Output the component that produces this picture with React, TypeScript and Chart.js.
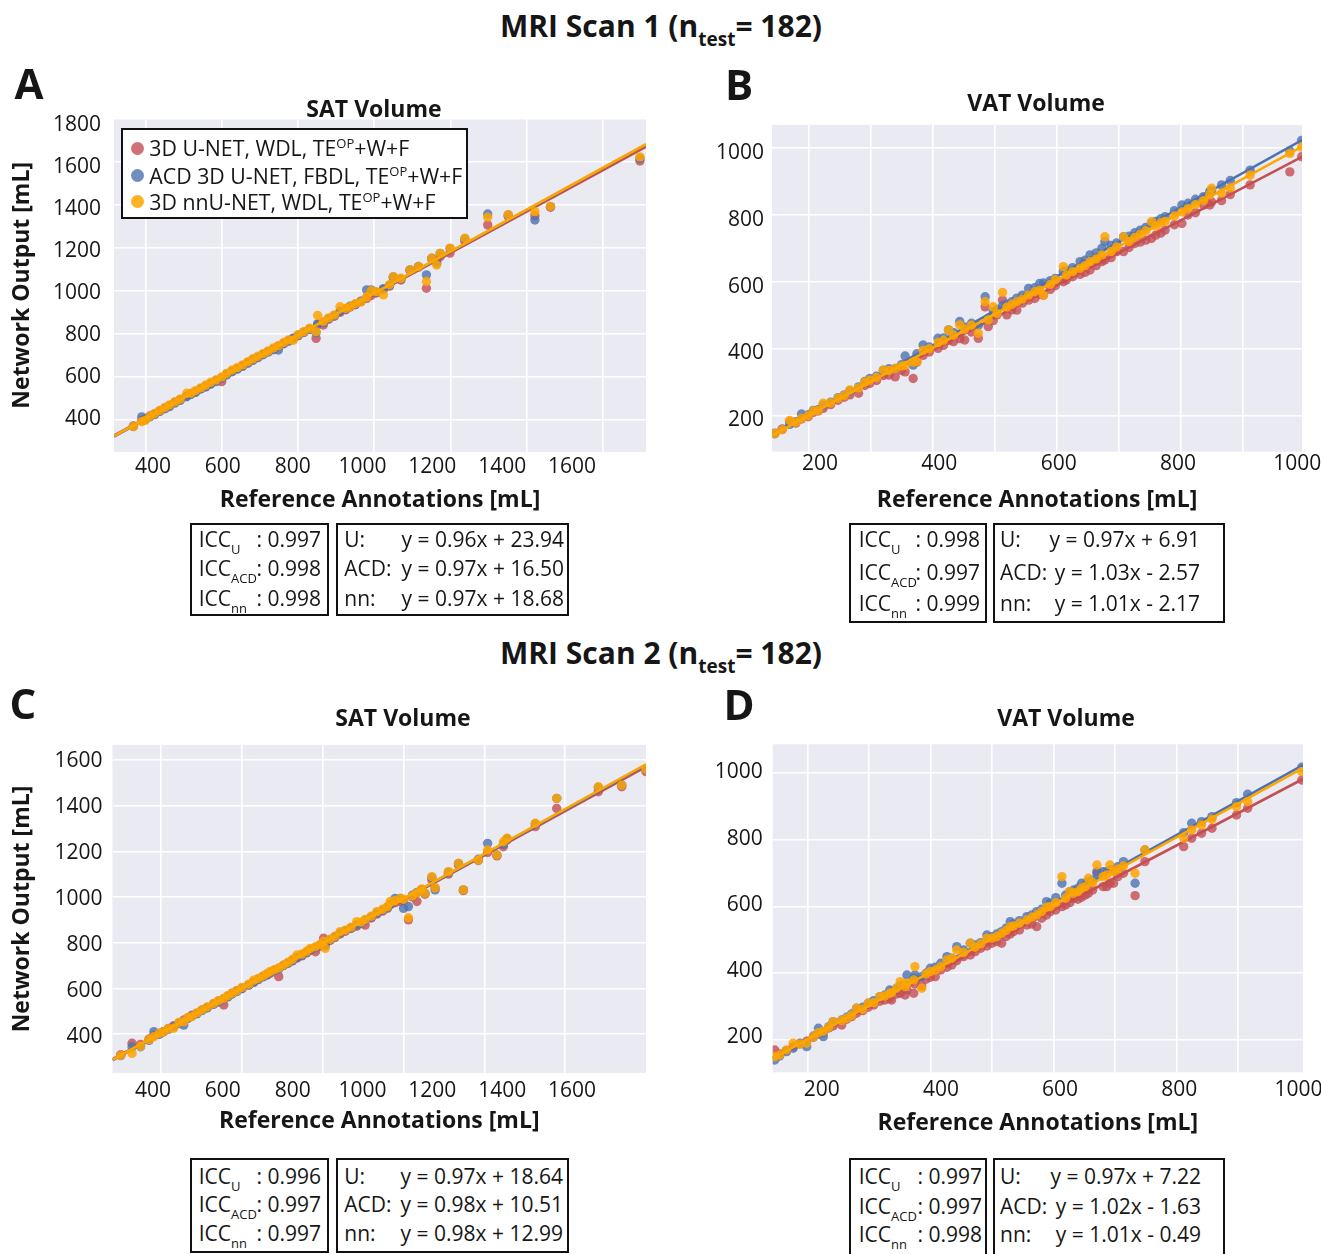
import React, { useEffect, useRef } from "react";
import { Chart, registerables } from "chart.js";

Chart.register(...registerables);

const FONT = '"Open Sans", "DejaVu Sans", sans-serif';
const INK = "#161616";

// ---------- series ----------
const SERIES_SHORT = ["U", "ACD", "nn"];
const SERIES_LABELS = ["3D U-NET, WDL, TE", "ACD 3D U-NET, FBDL, TE", "3D nnU-NET, WDL, TE"];
const LABEL_SUP = "OP";
const LABEL_TAIL = "+W+F";
const POINT_COLORS = ["rgba(196,78,82,0.8)", "rgba(76,114,176,0.8)", "rgba(255,165,0,0.85)"];
const LINE_COLORS = ["#C44E52", "#4C72B0", "#FFA500"];

// ---------- ticks ----------
const Y_TICKS_A = [400, 600, 800, 1000, 1200, 1400, 1600, 1800];
const Y_TICKS_C = [400, 600, 800, 1000, 1200, 1400, 1600];
const Y_TICKS_VAT = [200, 400, 600, 800, 1000];
const X_TICKS_SAT = [400, 600, 800, 1000, 1200, 1400, 1600];
const X_TICKS_VAT = [200, 400, 600, 800, 1000];
const X_GRID_A = [400, 600, 800, 1000, 1200, 1400, 1600];
const X_GRID_C = [400, 600, 800, 1000, 1200, 1400];
const X_GRID_VAT = [200, 300, 400, 500, 600, 700, 800, 900];

// ---------- Panel A: MRI scan 1, SAT ----------
const REF_A = [367, 389, 398, 410, 423, 436, 450, 462, 476, 490, 507, 518, 530, 544, 557, 570, 584, 599, 612, 626, 640, 654, 668, 681, 694, 708, 721, 735, 748, 762, 775, 787, 800, 815, 830, 847, 851, 866, 880, 895, 910, 925, 936, 950, 965, 980, 992, 1005, 1024, 1040, 1050, 1070, 1094, 1116, 1137, 1151, 1164, 1173, 1199, 1238, 1298, 1352, 1422, 1463, 1698];
const U_A = [372, 398, 404, 418, 428, 440, 455, 466, 482, 494, 510, 521, 530, 545, 556, 569, 583, 578, 612, 625, 638, 652, 666, 680, 690, 705, 716, 730, 742, 755, 768, 780, 792, 808, 820, 779, 842, 841, 868, 882, 900, 912, 924, 936, 950, 965, 978, 990, 1006, 1022, 1060, 1050, 1095, 1110, 1012, 1148, 1140, 1159, 1175, 1230, 1306, 1346, 1348, 1388, 1603];
const ACD_A = [370, 414, 402, 414, 425, 441, 452, 462, 478, 491, 508, 519, 528, 544, 553, 566, 578, 594, 609, 624, 636, 649, 664, 677, 690, 703, 716, 726, 725, 754, 766, 778, 792, 806, 822, 805, 846, 852, 870, 884, 904, 914, 928, 936, 952, 1004, 1004, 992, 1010, 1024, 1064, 1055, 1097, 1113, 1074, 1151, 1128, 1174, 1196, 1242, 1357, 1352, 1329, 1391, 1615];
const NN_A = [369, 392, 398, 416, 430, 444, 458, 470, 484, 497, 524, 524, 536, 549, 562, 575, 586, 600, 616, 632, 643, 656, 671, 684, 696, 708, 720, 734, 745, 760, 772, 770, 796, 810, 826, 810, 886, 858, 874, 888, 926, 918, 926, 940, 948, 972, 1000, 996, 981, 1028, 1066, 1058, 1097, 1113, 1043, 1151, 1120, 1174, 1198, 1244, 1342, 1354, 1368, 1392, 1622];
const SLOPE_A = [0.96, 0.97, 0.97];
const INTERCEPT_A = [23.94, 16.5, 18.68];
const ICC_A = ["0.997", "0.998", "0.998"];

// ---------- Panel B: MRI scan 1, VAT ----------
const REF_B = [146, 158, 170, 180, 189, 200, 208, 216, 224, 236, 248, 258, 267, 281, 291, 299, 310, 321, 330, 340, 350, 356, 369, 375, 385, 395, 409, 418, 426, 434, 444, 452, 463, 474, 485, 490, 498, 504, 513, 520, 528, 536, 545, 555, 565, 573, 579, 590, 598, 611, 616, 626, 638, 646, 654, 664, 673, 678, 688, 697, 708, 717, 726, 735, 744, 753, 760, 768, 775, 790, 802, 812, 824, 837, 847, 850, 866, 880, 912, 976, 995];
const U_B = [148, 160, 182, 178, 190, 197, 210, 214, 222, 233, 246, 255, 262, 267, 290, 296, 305, 320, 321, 316, 335, 331, 311, 360, 380, 390, 401, 410, 425, 421, 430, 426, 450, 431, 525, 466, 484, 501, 545, 501, 516, 515, 536, 545, 550, 562, 560, 577, 588, 600, 605, 615, 622, 628, 635, 648, 660, 665, 672, 690, 690, 702, 714, 718, 724, 729, 739, 745, 754, 770, 774, 799, 806, 829, 829, 838, 842, 860, 889, 928, 973];
const ACD_B = [146, 160, 174, 182, 205, 203, 216, 218, 232, 240, 254, 262, 274, 286, 302, 311, 318, 336, 340, 341, 352, 378, 351, 385, 411, 405, 431, 432, 456, 448, 481, 465, 476, 470, 555, 491, 510, 517, 528, 533, 540, 551, 560, 580, 582, 595, 596, 603, 610, 630, 632, 642, 660, 664, 680, 686, 700, 720, 708, 716, 734, 736, 746, 754, 762, 775, 780, 788, 794, 812, 829, 834, 846, 854, 870, 872, 889, 902, 933, 990, 1022];
const NN_B = [147, 158, 186, 180, 192, 200, 214, 216, 237, 238, 252, 260, 277, 283, 300, 306, 314, 336, 335, 341, 348, 350, 360, 361, 395, 400, 418, 425, 456, 440, 471, 458, 470, 446, 540, 486, 525, 505, 568, 524, 532, 540, 548, 560, 570, 575, 560, 592, 606, 645, 620, 630, 640, 648, 660, 668, 680, 734, 690, 704, 734, 720, 732, 742, 752, 779, 766, 776, 780, 796, 808, 818, 830, 842, 860, 879, 864, 880, 918, 983, 1002];
const SLOPE_B = [0.97, 1.03, 1.01];
const INTERCEPT_B = [6.91, -2.57, -2.17];
const ICC_B = ["0.998", "0.997", "0.999"];

// ---------- Panel C: MRI scan 2, SAT ----------
const REF_C = [300, 328, 349, 370, 382, 395, 406, 418, 431, 444, 456, 466, 476, 488, 501, 514, 530, 542, 555, 565, 575, 588, 600, 617, 629, 640, 652, 662, 670, 681, 691, 703, 714, 725, 736, 748, 760, 769, 782, 794, 802, 806, 818, 830, 843, 856, 870, 884, 895, 905, 920, 934, 948, 960, 967, 979, 992, 1000, 1012, 1022, 1033, 1045, 1053, 1070, 1078, 1111, 1136, 1148, 1185, 1208, 1231, 1247, 1256, 1326, 1379, 1482, 1540, 1600];
const U_C = [309, 359, 354, 378, 394, 400, 410, 424, 436, 448, 461, 470, 482, 490, 505, 516, 532, 544, 527, 565, 578, 590, 600, 615, 628, 639, 651, 658, 666, 679, 651, 700, 710, 722, 732, 742, 755, 766, 760, 785, 819, 790, 810, 822, 838, 850, 862, 872, 885, 877, 908, 925, 938, 950, 968, 975, 980, 985, 900, 1000, 980, 1030, 1012, 1075, 1040, 1100, 1140, 1028, 1160, 1195, 1180, 1220, 1250, 1308, 1388, 1461, 1483, 1549];
const ACD_C = [305, 344, 344, 372, 410, 398, 410, 420, 432, 447, 439, 468, 478, 488, 502, 514, 530, 540, 554, 562, 574, 586, 598, 614, 626, 638, 650, 660, 668, 678, 685, 700, 710, 720, 735, 744, 758, 768, 778, 790, 800, 786, 812, 826, 842, 852, 864, 878, 886, 898, 912, 930, 942, 954, 966, 994, 994, 950, 958, 1008, 1020, 1032, 1016, 1085, 1031, 1108, 1147, 1031, 1165, 1235, 1184, 1230, 1255, 1320, 1432, 1480, 1490, 1560];
const NN_C = [306, 315, 346, 375, 388, 402, 410, 423, 425, 450, 454, 472, 476, 492, 505, 518, 534, 546, 556, 568, 578, 590, 604, 618, 636, 643, 654, 665, 674, 682, 690, 702, 714, 727, 746, 750, 762, 775, 782, 792, 805, 775, 815, 828, 848, 855, 868, 892, 890, 902, 916, 936, 946, 958, 980, 984, 994, 990, 909, 1005, 1018, 1035, 1016, 1089, 1040, 1111, 1147, 1031, 1162, 1206, 1184, 1242, 1257, 1323, 1432, 1483, 1490, 1560];
const SLOPE_C = [0.97, 0.98, 0.98];
const INTERCEPT_C = [18.64, 10.51, 12.99];
const ICC_C = ["0.996", "0.997", "0.997"];

// ---------- Panel D: MRI scan 2, VAT ----------
const REF_D = [147, 155, 166, 177, 188, 199, 210, 218, 226, 235, 242, 256, 264, 272, 280, 290, 299, 308, 318, 326, 334, 337, 345, 351, 359, 362, 373, 375, 386, 393, 400, 408, 417, 427, 435, 443, 454, 465, 473, 482, 492, 500, 508, 516, 523, 530, 535, 545, 557, 565, 573, 581, 589, 595, 604, 614, 620, 627, 633, 640, 646, 652, 657, 664, 671, 681, 687, 692, 698, 705, 714, 733, 749, 812, 825, 841, 858, 898, 916, 1004];
const U_D = [170, 158, 168, 180, 188, 196, 208, 218, 222, 236, 242, 245, 262, 270, 280, 288, 298, 305, 316, 320, 325, 320, 338, 340, 335, 350, 340, 368, 362, 382, 388, 390, 410, 418, 425, 438, 450, 455, 465, 475, 482, 490, 495, 490, 510, 518, 525, 530, 545, 548, 540, 565, 575, 585, 590, 600, 605, 612, 625, 622, 628, 635, 640, 650, 705, 660, 660, 670, 670, 690, 700, 633, 735, 780, 805, 820, 835, 875, 895, 980];
const ACD_D = [140, 152, 165, 175, 190, 180, 212, 235, 210, 240, 255, 260, 268, 278, 295, 298, 310, 318, 330, 335, 350, 345, 355, 362, 366, 395, 385, 395, 390, 400, 415, 418, 430, 450, 445, 480, 470, 490, 485, 492, 515, 510, 518, 525, 535, 555, 548, 558, 570, 575, 585, 592, 615, 610, 627, 670, 635, 645, 650, 655, 670, 665, 675, 680, 700, 705, 705, 710, 712, 720, 735, 670, 770, 822, 850, 855, 870, 912, 937, 1018];
const NN_D = [150, 155, 170, 190, 188, 190, 210, 222, 226, 238, 255, 258, 265, 274, 295, 292, 310, 312, 330, 332, 340, 342, 355, 375, 360, 370, 380, 420, 355, 398, 405, 410, 420, 440, 445, 470, 462, 490, 478, 488, 505, 505, 510, 520, 528, 540, 542, 550, 560, 568, 575, 585, 598, 600, 612, 690, 625, 645, 640, 645, 655, 660, 685, 672, 725, 690, 695, 725, 705, 712, 722, 700, 770, 805, 830, 845, 862, 900, 915, 1005];
const SLOPE_D = [0.97, 1.02, 1.01];
const INTERCEPT_D = [7.22, -1.63, -0.49];
const ICC_D = ["0.997", "0.997", "0.998"];

// ---------- layout (page pixels) ----------
type Rect = { l: number; t: number; r: number; b: number };
type PanelSpec = {
  key: string;
  canvas: { x: number; y: number; w: number; h: number };
  area: Rect;
  xRange: [number, number];
  xLabelRange: [number, number];
  yRange: [number, number];
  yLabelRange: [number, number];
  yTicks: number[];
  xTicks: number[];
  xGrid: number[];
  yTitleX: number | null;
  xTitleY: number;
  yPad: number;
  xPad: number;
  ref: number[];
  series: number[][];
  slopes: number[];
  intercepts: number[];
  icc: string[];
  stats: { left: Rect; right: Rect; rows: number[]; iccL: number; iccR: number; lbL: number; eqR: number };
};

const PANELS: PanelSpec[] = [
  {
    key: "A",
    canvas: { x: 0, y: 100, w: 660, h: 430 },
    area: { l: 114, t: 118.6, r: 646, b: 452 },
    xRange: [316, 1714], xLabelRange: [288.3, 1812], yRange: [251, 1800], yLabelRange: [242.6, 1832.9],
    yTicks: Y_TICKS_A, xTicks: X_TICKS_SAT, xGrid: X_GRID_A,
    yTitleX: 22, xTitleY: 500, yPad: 13, xPad: 2,
    ref: REF_A, series: [U_A, ACD_A, NN_A], slopes: SLOPE_A, intercepts: INTERCEPT_A, icc: ICC_A,
    stats: { left: { l: 190, t: 522.7, r: 329, b: 616 }, right: { l: 336, t: 522.7, r: 569, b: 616 }, rows: [539.3, 568.3, 597.7], iccL: 198.7, iccR: 321, lbL: 344.3, eqR: 564 },
  },
  {
    key: "B",
    canvas: { x: 660, y: 100, w: 661, h: 430 },
    area: { l: 772, t: 125, r: 1302, b: 451.7 },
    xRange: [141.5, 995.6], xLabelRange: [119.6, 1007.8], yRange: [92.5, 1067.8], yLabelRange: [104.9, 1084.9],
    yTicks: Y_TICKS_VAT, xTicks: X_TICKS_VAT, xGrid: X_GRID_VAT,
    yTitleX: null, xTitleY: 500, yPad: 8, xPad: 0,
    ref: REF_B, series: [U_B, ACD_B, NN_B], slopes: SLOPE_B, intercepts: INTERCEPT_B, icc: ICC_B,
    stats: { left: { l: 848.6, t: 522.7, r: 987.4, b: 622.7 }, right: { l: 992.5, t: 522.7, r: 1224.8, b: 622.7 }, rows: [539.3, 571.7, 602.7], iccL: 858.7, iccR: 980, lbL: 1000, eqR: 1200 },
  },
  {
    key: "C",
    canvas: { x: 0, y: 730, w: 660, h: 420 },
    area: { l: 112.5, t: 745, r: 646, b: 1073 },
    xRange: [279.6, 1600], xLabelRange: [284, 1812], yRange: [229, 1665.7], yLabelRange: [242.1, 1668.7],
    yTicks: Y_TICKS_C, xTicks: X_TICKS_SAT, xGrid: X_GRID_C,
    yTitleX: 22, xTitleY: 1121, yPad: 10, xPad: 5,
    ref: REF_C, series: [U_C, ACD_C, NN_C], slopes: SLOPE_C, intercepts: INTERCEPT_C, icc: ICC_C,
    stats: { left: { l: 190, t: 1158.3, r: 329, b: 1253 }, right: { l: 336, t: 1158.3, r: 569, b: 1253 }, rows: [1176, 1204, 1232.7], iccL: 198.7, iccR: 321, lbL: 344.3, eqR: 563 },
  },
  {
    key: "D",
    canvas: { x: 660, y: 730, w: 661, h: 420 },
    area: { l: 772.7, t: 744.3, r: 1303, b: 1072.3 },
    xRange: [143.7, 1006], xLabelRange: [117.8, 1007.5], yRange: [103, 1087], yLabelRange: [92.2, 1085.4],
    yTicks: Y_TICKS_VAT, xTicks: X_TICKS_VAT, xGrid: X_GRID_VAT,
    yTitleX: null, xTitleY: 1123, yPad: 10, xPad: 5,
    ref: REF_D, series: [U_D, ACD_D, NN_D], slopes: SLOPE_D, intercepts: INTERCEPT_D, icc: ICC_D,
    stats: { left: { l: 848.6, t: 1158.3, r: 987.4, b: 1260 }, right: { l: 992.5, t: 1158.3, r: 1224.8, b: 1260 }, rows: [1176, 1206, 1234], iccL: 858.7, iccR: 982, lbL: 1000, eqR: 1201 },
  },
];

const TITLE_SIZE = 23;
const TITLE_LH = TITLE_SIZE * 1.2;

const bgPlugin = {
  id: "plotBackground",
  beforeDraw(chart: any) {
    const { ctx, chartArea } = chart;
    if (!chartArea) return;
    ctx.save();
    ctx.fillStyle = "#EAEAF2";
    ctx.fillRect(chartArea.left, chartArea.top, chartArea.right - chartArea.left, chartArea.bottom - chartArea.top);
    ctx.restore();
  },
};

function PanelChart({ p }: { p: PanelSpec }) {
  const ref = useRef<HTMLCanvasElement | null>(null);
  useEffect(() => {
    if (!ref.current) return;
    const padLeft = p.yTitleX != null ? p.yTitleX - TITLE_LH / 2 - p.canvas.x : 0;
    const yWidth = p.area.l - p.canvas.x - padLeft;
    const padTop = p.area.t - p.canvas.y;
    const padRight = p.canvas.x + p.canvas.w - p.area.r;
    const xHeight = p.xTitleY + TITLE_LH / 2 - p.area.b;
    const padBottom = p.canvas.y + p.canvas.h - p.area.b - xHeight;

    const datasets: any[] = [];
    for (let s = 0; s < 3; s++) {
      datasets.push({
        label: SERIES_LABELS[s] + LABEL_SUP + LABEL_TAIL,
        data: p.ref.map((x, i) => ({ x, y: p.series[s][i] })),
        backgroundColor: POINT_COLORS[s],
        borderWidth: 0,
        pointRadius: 4.7,
        pointHoverRadius: 4.7,
        order: 5 - 2 * s,
      });
      const [x0, x1] = p.xRange;
      datasets.push({
        label: SERIES_SHORT[s] + " fit",
        data: [
          { x: x0, y: p.slopes[s] * x0 + p.intercepts[s] },
          { x: x1, y: p.slopes[s] * x1 + p.intercepts[s] },
        ],
        showLine: true,
        borderColor: LINE_COLORS[s],
        backgroundColor: LINE_COLORS[s],
        borderWidth: 2.6,
        pointRadius: 0,
        pointHoverRadius: 0,
        order: 4 - 2 * s,
      });
    }

    const tickFont = { family: FONT, size: 21 };
    const titleFont = { family: FONT, size: TITLE_SIZE, weight: "bold" as const };

    const chart = new Chart(ref.current, {
      type: "scatter",
      data: { datasets },
      plugins: [bgPlugin],
      options: {
        animation: false,
        responsive: false,
        devicePixelRatio: 1,
        events: [],
        layout: { padding: { left: padLeft, top: padTop, right: padRight, bottom: padBottom } },
        plugins: { legend: { display: false }, tooltip: { enabled: false }, title: { display: false } },
        scales: {
          // data axis: carries the grid
          x: {
            type: "linear",
            position: "bottom",
            weight: 0,
            min: p.xRange[0],
            max: p.xRange[1],
            bounds: "data",
            afterBuildTicks: (s: any) => { s.ticks = p.xGrid.map((v) => ({ value: v })); },
            afterFit: (s: any) => { s.height = 0; s.paddingLeft = 0; s.paddingRight = 0; },
            ticks: { display: false },
            grid: { color: "#ffffff", lineWidth: 1.6, drawTicks: false },
            border: { display: false },
          },
          // label axis (the printed tick labels sit on their own scale)
          x2: {
            type: "linear",
            axis: "x",
            position: "bottom",
            weight: 1,
            min: p.xLabelRange[0],
            max: p.xLabelRange[1],
            bounds: "data",
            afterBuildTicks: (s: any) => { s.ticks = p.xTicks.map((v) => ({ value: v })); },
            afterFit: (s: any) => { s.height = xHeight; s.paddingLeft = 0; s.paddingRight = 0; },
            ticks: { font: tickFont, color: INK, padding: p.xPad, maxRotation: 0, autoSkip: false, callback: (v: any) => String(v) },
            grid: { display: false, drawTicks: false },
            border: { display: false },
            title: { display: true, text: "Reference Annotations [mL]", font: titleFont, color: INK, padding: 0 },
          },
          y: {
            type: "linear",
            position: "left",
            weight: 0,
            min: p.yRange[0],
            max: p.yRange[1],
            bounds: "data",
            afterBuildTicks: (s: any) => { s.ticks = p.yTicks.map((v) => ({ value: v })); },
            afterFit: (s: any) => { s.width = 0; s.paddingTop = 0; s.paddingBottom = 0; },
            ticks: { display: false },
            grid: { color: "#ffffff", lineWidth: 1.6, drawTicks: false },
            border: { display: false },
          },
          y2: {
            type: "linear",
            axis: "y",
            position: "left",
            weight: 1,
            min: p.yLabelRange[0],
            max: p.yLabelRange[1],
            bounds: "data",
            afterBuildTicks: (s: any) => { s.ticks = p.yTicks.map((v) => ({ value: v })); },
            afterFit: (s: any) => { s.width = yWidth; s.paddingTop = 0; s.paddingBottom = 0; },
            ticks: { font: tickFont, color: INK, padding: p.yPad, autoSkip: false, callback: (v: any) => String(v) },
            grid: { display: false, drawTicks: false },
            border: { display: false },
            title: p.yTitleX != null
              ? { display: true, text: "Network Output [mL]", font: titleFont, color: INK, padding: 0 }
              : { display: false },
          },
        },
      } as any,
    });
    return () => chart.destroy();
  }, [p]);
  return (
    <canvas
      ref={ref}
      width={p.canvas.w}
      height={p.canvas.h}
      style={{ position: "absolute", left: p.canvas.x, top: p.canvas.y, width: p.canvas.w, height: p.canvas.h }}
    />
  );
}

const textBase: React.CSSProperties = { position: "absolute", whiteSpace: "nowrap", lineHeight: 1, color: INK };

function fmtEq(m: number, b: number) {
  return `y = ${m.toFixed(2)}x ${b < 0 ? "-" : "+"} ${Math.abs(b).toFixed(2)}`;
}

function boxStyle(r: Rect): React.CSSProperties {
  return { position: "absolute", left: r.l, top: r.t, width: r.r - r.l, height: r.b - r.t, border: "2px solid #111", boxSizing: "border-box" };
}

function Stats({ p }: { p: PanelSpec }) {
  const s = p.stats;
  return (
    <>
      <div style={boxStyle(s.left)} />
      <div style={boxStyle(s.right)} />
      {SERIES_SHORT.map((name, i) => (
        <React.Fragment key={name}>
          <div style={{ ...textBase, left: s.iccL, top: s.rows[i], transform: "translateY(-50%)", fontSize: 21 }}>
            ICC<span style={{ fontSize: 13, position: "relative", top: 7 }}>{name}</span>
          </div>
          <div style={{ ...textBase, left: s.iccR, top: s.rows[i], transform: "translate(-100%,-50%)", fontSize: 21 }}>
            : {p.icc[i]}
          </div>
          <div style={{ ...textBase, left: s.lbL, top: s.rows[i], transform: "translateY(-50%)", fontSize: 21 }}>{name}:</div>
          <div style={{ ...textBase, left: s.eqR, top: s.rows[i], transform: "translate(-100%,-50%)", fontSize: 21 }}>
            {fmtEq(p.slopes[i], p.intercepts[i])}
          </div>
        </React.Fragment>
      ))}
    </>
  );
}

function Heading({ y, scan }: { y: number; scan: number }) {
  return (
    <div style={{ ...textBase, left: 661, top: y, transform: "translate(-50%,-50%)", fontSize: 30, fontWeight: 700 }}>
      MRI Scan {scan} (n<span style={{ fontSize: 19, position: "relative", top: 9 }}>test</span>= 182)
    </div>
  );
}

const SUBTITLES: [string, number, number][] = [
  ["SAT Volume", 374, 108],
  ["VAT Volume", 1036, 102],
  ["SAT Volume", 403, 716.5],
  ["VAT Volume", 1066, 716.5],
];
const LETTERS: [string, number, number][] = [
  ["A", 29, 83],
  ["B", 739, 84],
  ["C", 23, 703],
  ["D", 739, 704],
];

export default function App() {
  useEffect(() => {
    document.body.style.margin = "0";
  }, []);
  const legendRows = [148.3, 175.7, 201.7];
  return (
    <div style={{ position: "absolute", left: 0, top: 0, width: 1321, height: 1254, overflow: "hidden", background: "#fff", fontFamily: FONT, color: INK }}>
      {PANELS.map((p) => (
        <PanelChart key={p.key} p={p} />
      ))}
      <Heading y={26} scan={1} />
      <Heading y={653} scan={2} />
      {LETTERS.map(([t, x, y]) => (
        <div key={t} style={{ ...textBase, left: x, top: y, transform: "translate(-50%,-50%)", fontSize: 42, fontWeight: 700 }}>{t}</div>
      ))}
      {SUBTITLES.map(([t, x, y], i) => (
        <div key={i} style={{ ...textBase, left: x, top: y, transform: "translate(-50%,-50%)", fontSize: 23, fontWeight: 700 }}>{t}</div>
      ))}
      {/* legend of panel A */}
      <div style={{ position: "absolute", left: 120.7, top: 128.3, width: 347.6, height: 91, border: "2px solid #111", boxSizing: "border-box", background: "#fff" }} />
      {SERIES_LABELS.map((lab, i) => (
        <React.Fragment key={lab}>
          <div style={{ position: "absolute", left: 137.3 - 6.5, top: legendRows[i] - 6.5, width: 13, height: 13, borderRadius: "50%", background: POINT_COLORS[i] }} />
          <div style={{ ...textBase, left: 149.3, top: legendRows[i], transform: "translateY(-50%)", fontSize: 21.3 }}>
            {lab}<span style={{ fontSize: 13, position: "relative", top: -8 }}>{LABEL_SUP}</span>{LABEL_TAIL}
          </div>
        </React.Fragment>
      ))}
      {PANELS.map((p) => (
        <Stats key={p.key} p={p} />
      ))}
    </div>
  );
}
